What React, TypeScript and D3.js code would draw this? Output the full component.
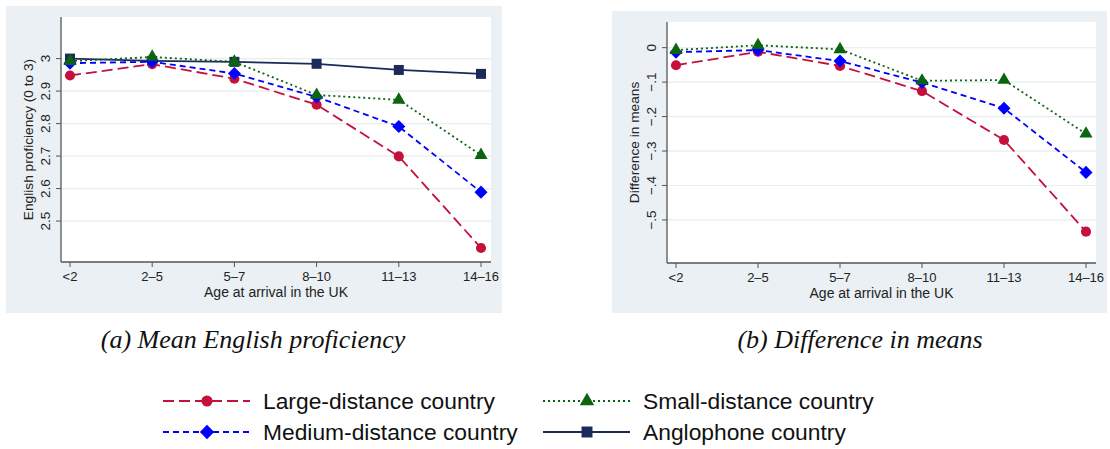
import * as d3 from 'd3';

const ageGroups = ['<2', '2–5', '5–7', '8–10', '11–13', '14–16'];

// panel (a): mean English proficiency
const largeMean = [2.948, 2.983, 2.938, 2.858, 2.699, 2.417];
const mediumMean = [2.986, 2.99, 2.954, 2.882, 2.791, 2.589];
const smallMean = [2.992, 3.005, 2.99, 2.888, 2.873, 2.703];
const angloMean = [3.0, 2.993, 2.99, 2.984, 2.965, 2.953];

// panel (b): difference in means
const largeDiff = [-0.051, -0.012, -0.053, -0.126, -0.268, -0.534];
const mediumDiff = [-0.013, -0.007, -0.039, -0.101, -0.176, -0.362];
const smallDiff = [-0.007, 0.007, -0.005, -0.096, -0.094, -0.25];

const leftTicks = [2.5, 2.6, 2.7, 2.8, 2.9, 3];
const leftTickLabels = ['2.5', '2.6', '2.7', '2.8', '2.9', '3'];
const rightTicks = [-0.5, -0.4, -0.3, -0.2, -0.1, 0];
const rightTickLabels = ['\u2212.5', '\u2212.4', '\u2212.3', '\u2212.2', '\u2212.1', '0'];

const seriesNames = ['Large-distance country', 'Medium-distance country', 'Small-distance country', 'Anglophone country'];

const styles = [
  { color: '#c4103a', dash: '11,5', symbol: d3.symbolCircle, size: 80, rot: 0 },
  { color: '#0000ff', dash: '6,4', symbol: d3.symbolSquare, size: 85, rot: 45 },
  { color: '#0b640f', dash: '2,3', symbol: d3.symbolTriangle, size: 75, rot: 0 },
  { color: '#1b2a58', dash: null, symbol: d3.symbolSquare, size: 100, rot: 0 },
];

const font = 'Liberation Sans, Arial, sans-serif';

function Panel({ bg, plot, yDomain, ticks, tickLabels, yTitle, series, xRange }) {
  const x = d3.scalePoint().domain(ageGroups).range(xRange);
  const y = d3.scaleLinear().domain(yDomain).range([plot.b, plot.t]);
  const line = d3.line<number>().x((_, i) => x(ageGroups[i])).y(d => y(d));
  const midX = (plot.l + plot.r) / 2;
  const midY = (plot.t + plot.b) / 2;
  return (
    <g>
      <rect x={bg.l} y={bg.t} width={bg.r - bg.l} height={bg.b - bg.t} fill="#eaf0f3" />
      <rect x={plot.l} y={plot.t} width={plot.r - plot.l} height={plot.b - plot.t} fill="#ffffff" />
      {ticks.map((t, i) => (
        <g key={'yt' + i}>
          <line x1={plot.l} x2={plot.r} y1={y(t)} y2={y(t)} stroke="#e6eef0" strokeWidth={1.2} />
          <line x1={plot.l - 5} x2={plot.l} y1={y(t)} y2={y(t)} stroke="#555" strokeWidth={1} />
          <text
            transform={`translate(${plot.l - 11},${y(t)}) rotate(-90)`}
            textAnchor="middle"
            fontFamily={font}
            fontSize={13.5}
            fill="#222"
          >
            {tickLabels[i]}
          </text>
        </g>
      ))}
      <text
        transform={`translate(${plot.l - 28},${midY}) rotate(-90)`}
        textAnchor="middle"
        fontFamily={font}
        fontSize={13.7}
        fill="#222"
      >
        {yTitle}
      </text>
      {ageGroups.map(g => (
        <g key={g}>
          <line x1={x(g)} x2={x(g)} y1={plot.b} y2={plot.b + 5} stroke="#555" strokeWidth={1} />
          <text x={x(g)} y={plot.b + 18.5} textAnchor="middle" fontFamily={font} fontSize={13} fill="#222">
            {g}
          </text>
        </g>
      ))}
      <text x={midX} y={plot.b + 34.5} textAnchor="middle" fontFamily={font} fontSize={14} fill="#222">
        Age at arrival in the UK
      </text>
      <line x1={plot.l} x2={plot.l} y1={plot.t} y2={plot.b} stroke="#555" strokeWidth={1.3} />
      <line x1={plot.l} x2={plot.r} y1={plot.b} y2={plot.b} stroke="#555" strokeWidth={1.3} />
      {series.map((s, k) => {
        const st = styles[s.style];
        return (
          <g key={'s' + k}>
            <path d={line(s.values)} fill="none" stroke={st.color} strokeWidth={1.8} strokeDasharray={st.dash || undefined} />
            {s.values.map((v, i) => (
              <path
                key={i}
                d={d3.symbol().type(st.symbol).size(st.size)()}
                transform={`translate(${x(ageGroups[i])},${y(v)}) rotate(${st.rot})`}
                fill={st.color}
              />
            ))}
          </g>
        );
      })}
    </g>
  );
}

function LegendItem({ x, y, idx }) {
  const st = styles[idx];
  return (
    <g>
      <line x1={x} x2={x + 87} y1={y} y2={y} stroke={st.color} strokeWidth={2.2} strokeDasharray={st.dash || undefined} />
      <path
        d={d3.symbol().type(st.symbol).size(st.size * 1.2)()}
        transform={`translate(${x + 44},${y}) rotate(${st.rot})`}
        fill={st.color}
      />
      <text x={x + 100} y={y + 8} fontFamily={font} fontSize={22.8} fill="#111">
        {seriesNames[idx]}
      </text>
    </g>
  );
}

export default function App() {
  return (
    <svg width={1110} height={449} style={{ position: 'fixed', left: 0, top: 0 }}>
      <rect width={1110} height={449} fill="#ffffff" />
      <Panel
        bg={{ l: 6, r: 502, t: 6, b: 313 }}
        plot={{ l: 61, r: 491, t: 17, b: 262 }}
        yDomain={[2.374, 3.128]}
        ticks={leftTicks}
        tickLabels={leftTickLabels}
        yTitle="English proficiency (0 to 3)"
        xRange={[70, 481]}
        series={[
          { values: angloMean, style: 3 },
          { values: largeMean, style: 0 },
          { values: mediumMean, style: 1 },
          { values: smallMean, style: 2 },
        ]}
      />
      <Panel
        bg={{ l: 612, r: 1107, t: 11, b: 313 }}
        plot={{ l: 667, r: 1096, t: 22, b: 263 }}
        yDomain={[-0.625, 0.0745]}
        ticks={rightTicks}
        tickLabels={rightTickLabels}
        yTitle="Difference in means"
        xRange={[676, 1086]}
        series={[
          { values: largeDiff, style: 0 },
          { values: mediumDiff, style: 1 },
          { values: smallDiff, style: 2 },
        ]}
      />
      <text x={253} y={348} textAnchor="middle" fontFamily="Liberation Serif, Times New Roman, serif" fontStyle="italic" fontSize={26} fill="#111">
        (a) Mean English proficiency
      </text>
      <text x={860} y={348} textAnchor="middle" fontFamily="Liberation Serif, Times New Roman, serif" fontStyle="italic" fontSize={26} fill="#111">
        (b) Difference in means
      </text>
      <LegendItem x={163} y={401} idx={0} />
      <LegendItem x={163} y={432} idx={1} />
      <LegendItem x={543} y={401} idx={2} />
      <LegendItem x={543} y={432} idx={3} />
    </svg>
  );
}
